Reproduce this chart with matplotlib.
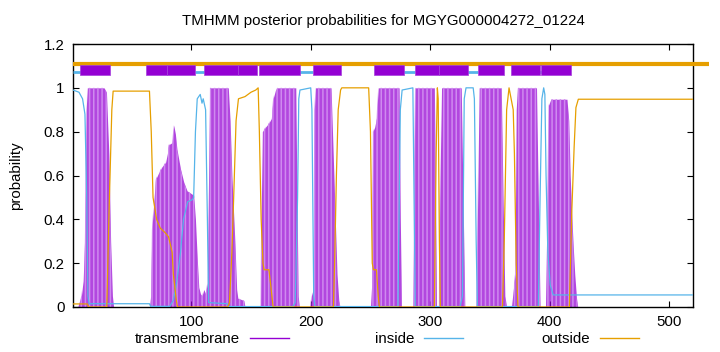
import matplotlib
matplotlib.use("Agg")
import matplotlib.pyplot as plt
from matplotlib.lines import Line2D

plt.rcParams['font.family'] = ['Liberation Sans', 'DejaVu Sans']
plt.rcParams['hatch.linewidth'] = 1.1

seq_len = 520
protein = "MGYG000004272_01224"

# posterior probability profiles (residue, probability)
tm_pos = [5, 6, 8, 9.5, 11, 12, 13, 27, 29, 31, 32.5, 34, 35,
          65, 66, 67, 68.5, 70, 72.5, 75.5, 78.5, 80, 81, 84, 85.3, 86.7, 88, 91,
          93.7, 96.5, 99.3, 102, 103.5, 105, 106.3, 107.7, 109, 110.5, 112, 113.4,
          114.5, 115.5, 131, 132.5, 134, 136.5, 138, 139, 144, 145,
          158, 158.5, 159.5, 162, 165, 167, 168.5, 170.5, 172, 187.5, 188.5, 189.5, 190.5,
          199.5, 200.5, 202, 203, 204, 217, 218.5, 220, 222, 223.5, 224.5,
          250, 251, 252, 253.5, 255, 256.5, 274, 275, 276,
          285.5, 286.5, 287.3, 303.5, 304.5, 305.3,
          307, 308, 309.5, 326, 327.5, 329,
          338.5, 339.5, 341, 359.5, 361, 362.5, 364,
          368, 369, 371, 372, 373, 389, 390.5, 392,
          396.5, 398, 399, 401, 414.5, 416, 417.2, 418.5, 419.7, 421, 422.5, 423.5]
tm_prob = [0, 0.02, 0.05, 0.12, 0.35, 0.9, 1.0, 1.0, 0.98, 0.7, 0.3, 0.05, 0,
           0, 0.05, 0.35, 0.47, 0.58, 0.61, 0.64, 0.66, 0.70, 0.74, 0.75, 0.83, 0.79, 0.72, 0.63,
           0.57, 0.53, 0.52, 0.51, 0.40, 0.22, 0.09, 0.06, 0.05, 0.08, 0.06, 0.11,
           0.6, 1.0, 1.0, 0.85, 0.6, 0.3, 0.08, 0.04, 0.03, 0,
           0, 0.4, 0.8, 0.82, 0.84, 0.86, 0.95, 0.99, 1.0, 1.0, 0.5, 0.05, 0,
           0, 0.05, 0.08, 0.9, 1.0, 1.0, 0.75, 0.5, 0.15, 0.03, 0,
           0, 0.1, 0.8, 0.82, 0.86, 1.0, 1.0, 0.4, 0,
           0, 0.6, 1.0, 1.0, 0.5, 0,
           0, 0.5, 1.0, 1.0, 0.5, 0,
           0, 0.4, 1.0, 1.0, 0.5, 0.05, 0,
           0, 0.05, 0.15, 0.9, 1.0, 1.0, 0.5, 0,
           0, 0.5, 0.92, 0.948, 0.948, 0.85, 0.6, 0.42, 0.28, 0.15, 0.04, 0]

inside_pos = [1, 6, 9, 11, 12.5, 13.5, 14.5, 65, 66, 82, 85, 88, 91, 93.5, 97, 101, 102,
              103.5, 105, 107.5, 109, 110, 112, 113.5, 114.5, 130, 131,
              185, 187, 189, 190, 191, 200, 201, 202.5, 203.5,
              273, 275, 276.5, 285.5, 286.5, 287.5,
              325, 327, 328.5, 330, 336, 337, 338.5, 339.5,
              390.5, 392, 393.5, 395, 396, 397, 398.5, 400.5, 403, 520]
inside_prob = [0.99, 0.98, 0.95, 0.88, 0.5, 0.05, 0.015, 0.015, 0.003, 0.003, 0.03, 0.12,
               0.25, 0.40, 0.48, 0.49, 0.5, 0.8, 0.95, 0.97, 0.93, 0.95, 0.9, 0.4, 0.02,
               0.015, 0.002, 0.002, 0.02, 0.5, 0.95, 0.99, 1.0, 0.9, 0.05, 0.002,
               0.002, 0.9, 0.99, 1.0, 0.5, 0.002,
               0.002, 0.05, 0.95, 1.0, 1.0, 0.95, 0.3, 0.002,
               0.002, 0.5, 0.95, 1.0, 0.97, 0.6, 0.25, 0.1, 0.055, 0.055]

outside_pos = [1, 13, 14, 29.3, 31, 33.5, 34.6, 65, 66.5, 68, 71, 74, 78, 81, 84, 85,
               87.5, 88.5, 130.5, 132, 134, 135.5, 137.5, 139.5, 145, 150, 154, 156,
               157, 158.5, 160, 161, 165, 166.5, 168.5,
               219, 220, 221.5, 223, 225, 226, 248.5, 250, 251.5, 252.5, 255, 256.5, 257.5,
               303.5, 305, 306, 306.7, 307.7, 308.5,
               360.5, 362, 364, 366, 369.5, 370.5, 372, 373.5,
               416.5, 418.5, 420.5, 422, 424, 520]
outside_prob = [0.014, 0.014, 0, 0, 0.4, 0.9, 0.985, 0.985, 0.8, 0.5, 0.4, 0.36, 0.34,
                0.32, 0.25, 0.15, 0.03, 0, 0, 0.02, 0.25, 0.5, 0.85, 0.95, 0.96, 0.98,
                0.99, 1.0, 0.8, 0.4, 0.2, 0.17, 0.17, 0.1, 0,
                0, 0.2, 0.6, 0.9, 0.99, 1.0, 1.0, 0.8, 0.2, 0.17, 0.17, 0.05, 0,
                0, 0.7, 1.0, 0.95, 0.3, 0,
                0, 0.3, 0.9, 1.0, 0.9, 0.7, 0.2, 0,
                0, 0.43, 0.73, 0.91, 0.948, 0.948]

# predicted topology shown in the band above the profiles
helix_start = [7, 62, 80, 111, 139, 157, 202, 253, 287, 307, 340, 368, 393]
helix_end = [32, 80, 103, 139, 155, 191, 225, 278, 307, 332, 362, 392, 418]
inside_start = [1, 103.5, 189, 276, 329, 390]
inside_end = [12, 114, 202, 287, 340, 398]

c_tm = '#9400d3'
c_in = '#56b4e9'
c_out = '#e69f00'
fs = 10.8

fig = plt.figure(figsize=(7.2, 3.52), dpi=100)
ax = fig.add_axes([73 / 720, 45 / 352, 620 / 720, 263 / 352])

ax.fill_between(tm_pos, tm_prob, color=c_tm, alpha=0.72, linewidth=0, zorder=2)
ax.fill_between(tm_pos, tm_prob, facecolor='none', edgecolor='#cf8aef',
                hatch='||||', linewidth=0, zorder=2)
ax.plot(inside_pos, inside_prob, color=c_in, lw=0.9, zorder=3)
ax.plot(outside_pos, outside_prob, color=c_out, lw=0.9, zorder=3)

# topology band
ax.plot([1, seq_len + 13], [1.109, 1.109], color=c_out, lw=3, clip_on=False,
        solid_capstyle='butt', zorder=4)
ax.hlines([1.07] * len(inside_start), inside_start, inside_end, color=c_in, lw=2, zorder=4)
for s, e in zip(helix_start, helix_end):
    ax.fill_between([s, e], [1.058, 1.058], [1.105, 1.105], facecolor=c_tm,
                    edgecolor='#a640dc', linewidth=0.5, zorder=5)

ax.set_xlim(1, seq_len)
ax.set_ylim(0, 1.2)
ax.set_xticks([100, 200, 300, 400, 500])
ax.set_yticks([0, 0.2, 0.4, 0.6, 0.8, 1.0, 1.2])
ax.set_yticklabels(['0', '0.2', '0.4', '0.6', '0.8', '1', '1.2'])
ax.tick_params(direction='in', length=4, width=0.8, top=True, right=True,
               labelsize=fs, pad=6)
for sp in ax.spines.values():
    sp.set_linewidth(1)
ax.set_ylabel('probability', fontsize=fs, labelpad=15)
ax.set_title('TMHMM posterior probabilities for ' + protein, fontsize=fs, pad=14)

# key: one entry per column, text right-aligned against its sample line
labels = ['transmembrane', 'inside', 'outside']
colors = [c_tm, c_in, c_out]
key_right = [289, 463, 639]
for lab, col, xr in zip(labels, colors, key_right):
    fig.legend([Line2D([], [], color=col, lw=1)], [lab], loc='center right',
               bbox_to_anchor=(xr / 720, 13 / 352), frameon=False, markerfirst=False,
               handlelength=2.6, handletextpad=0.65, fontsize=fs, borderpad=0,
               borderaxespad=0)

fig.savefig('out.png', dpi=100)
